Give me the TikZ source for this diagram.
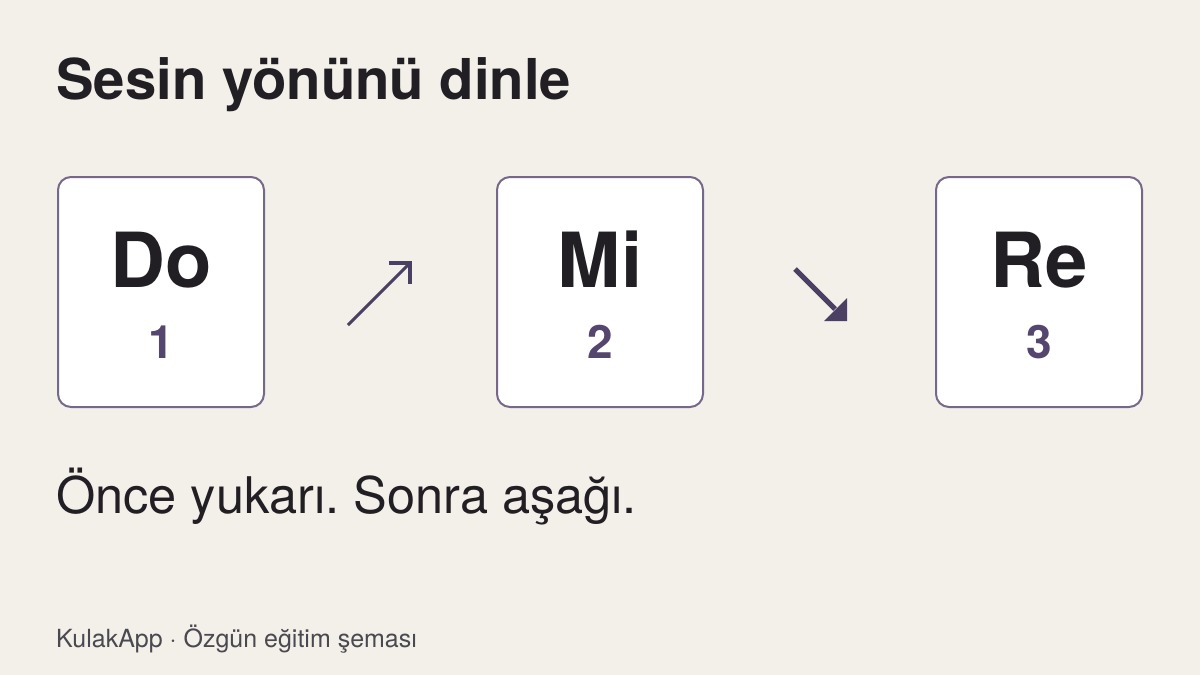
\documentclass[tikz,border=0pt]{standalone}
\usepackage{fontspec}
\setmainfont{TeX Gyre Heros}
\frenchspacing
\definecolor{bgc}{HTML}{F3F0E9}
\definecolor{boxline}{HTML}{76688A}
\definecolor{numc}{HTML}{54466E}
\definecolor{arrowc}{HTML}{4B3F63}
\definecolor{inkc}{HTML}{211F24}
\definecolor{footc}{HTML}{4A4850}
\tikzset{
  notebox/.style={draw=boxline, line width=2pt, fill=white, rounded corners=13pt,
    minimum width=206pt, minimum height=230pt, inner sep=0pt},
  notename/.style={anchor=base, inner sep=0pt, text=inkc, font=\bfseries\fontsize{76}{76}\selectfont},
  notenum/.style={anchor=base, inner sep=0pt, text=numc, font=\bfseries\fontsize{46}{46}\selectfont},
  arrowline/.style={draw=arrowc, line cap=butt, line join=miter}
}
\begin{document}
\begin{tikzpicture}[x=1pt,y=-1pt]
\fill[bgc] (0,0) rectangle (1200,675);
\useasboundingbox (0,0) rectangle (1200,675);

\node[anchor=base west, inner sep=0pt, text=inkc, font=\bfseries\fontsize{56.3}{56.3}\selectfont] (title) at (56,99) {Sesin yönünü dinle};

\node[notebox] (box1) at (161,292) {};
\node[notebox] (box2) at (600,292) {};
\node[notebox] (box3) at (1039,292) {};

\node[notename] (n1) at (161,287) {Do};
\node[notename] (n2) at (600,287) {Mi};
\node[notename] (n3) at (1039,287) {Re};
\node[notenum] (k1) at (161,358) {1};
\node[notenum] (k2) at (600,358) {2};
\node[notenum] (k3) at (1039,358) {3};

% up arrow
\coordinate (uas) at (348,325);
\coordinate (uae) at (410,263);
\coordinate (uah1) at (389,263);
\coordinate (uah2) at (410,284);
\draw[arrowline, line width=3pt] (uas) -- (uae);
\draw[arrowline, line width=3.2pt] (uah1) -- (uae) -- (uah2);

% down arrow
\coordinate (das) at (795,269);
\coordinate (dae) at (835,309);
\coordinate (dat) at (847,321);
\coordinate (dat1) at (824,321);
\coordinate (dat2) at (847,298);
\draw[arrowline, line width=5pt] (das) -- (dae);
\fill[arrowc] (dat) -- (dat1) -- (dat2) -- cycle;

\node[anchor=base west, inner sep=0pt, text=inkc, font=\fontsize{50.5}{50.5}\selectfont] (body) at (56,513) {Önce yukarı. Sonra aşağı.};

\node[anchor=base west, inner sep=0pt, text=footc, font=\fontsize{25}{25}\selectfont] (foot) at (56,647) {KulakApp · Özgün eğitim şeması};
\end{tikzpicture}
\end{document}
